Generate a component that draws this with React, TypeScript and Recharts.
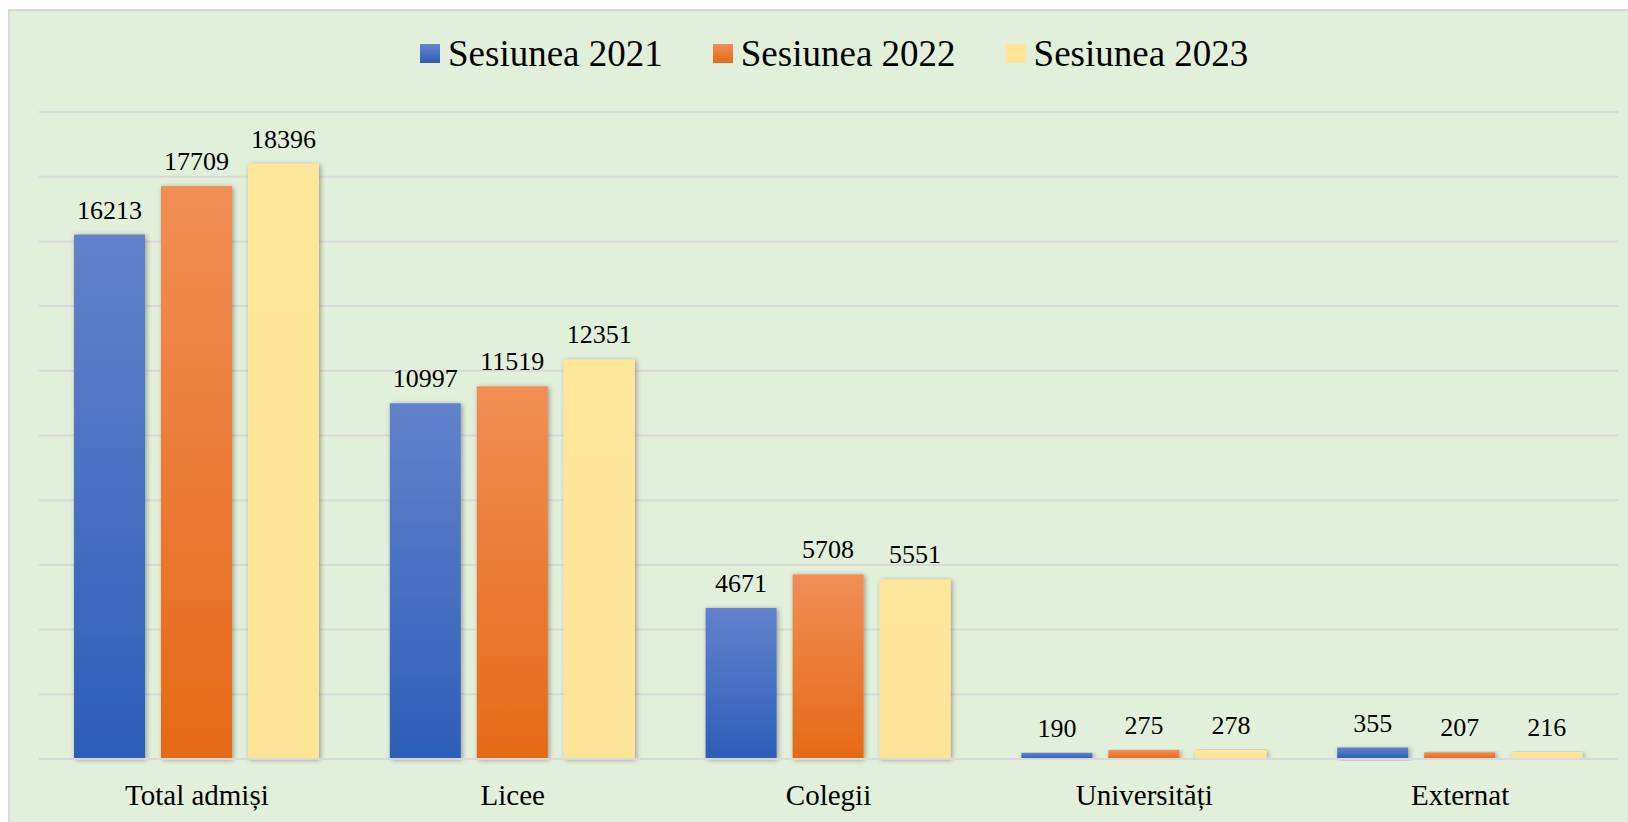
import React from 'react';
import { BarChart, Bar, XAxis, YAxis, CartesianGrid, LabelList } from 'recharts';

const categories = ['Total admiși', 'Licee', 'Colegii', 'Universități', 'Externat'];
const sesiunea2021 = [16213, 10997, 4671, 190, 355];
const sesiunea2022 = [17709, 11519, 5708, 275, 207];
const sesiunea2023 = [18396, 12351, 5551, 278, 216];
const yTicks = [0, 2000, 4000, 6000, 8000, 10000, 12000, 14000, 16000, 18000, 20000];

const seriesNames = ['Sesiunea 2021', 'Sesiunea 2022', 'Sesiunea 2023'];
const seriesKeys = ['s2021', 's2022', 's2023'];
const gradientIds = ['gradBlue', 'gradOrange', 'gradYellow'];

const data = categories.map((name, i) => ({
  name,
  s2021: sesiunea2021[i],
  s2022: sesiunea2022[i],
  s2023: sesiunea2023[i],
}));

const serif = "'Liberation Serif', 'Times New Roman', serif";

// bar with the soft excel-like shadow
const ShadowBar = (props: any) => {
  const { x, y, width, height, fill } = props;
  if (!height || height <= 0) return null;
  return <rect x={x} y={y} width={width} height={height} fill={fill} filter="url(#barShadow)" />;
};

const LegendSwatch = ({ id }: { id: string }) => (
  <svg width={20} height={19} style={{ display: 'block' }}>
    <defs>
      <linearGradient id={id + 'Leg'} x1="0" y1="0" x2="0" y2="1">
        {id === 'gradBlue' && <><stop offset="0%" stopColor="#6485CC" /><stop offset="100%" stopColor="#2D5EB8" /></>}
        {id === 'gradOrange' && <><stop offset="0%" stopColor="#F28E56" /><stop offset="100%" stopColor="#E56A17" /></>}
        {id === 'gradYellow' && <><stop offset="0%" stopColor="#FFE699" /><stop offset="100%" stopColor="#FEE497" /></>}
      </linearGradient>
    </defs>
    <rect x={0} y={0} width={20} height={19} fill={`url(#${id}Leg)`} />
  </svg>
);

export default function App() {
  return (
    <>
      <style>{`body { margin: 0; overflow: hidden; }`}</style>
      <div
        style={{
          position: 'absolute',
          left: 8,
          top: 9,
          width: 1618,
          height: 811,
          borderLeft: '2px solid #d9d9d9',
          borderTop: '2px solid #d9d9d9',
          background: '#E2EFDA',
        }}
      >
        <div
          style={{
            position: 'absolute',
            left: 410,
            top: 24,
            display: 'flex',
            alignItems: 'center',
            fontFamily: serif,
            fontSize: 37,
            lineHeight: '37px',
            color: '#000',
            whiteSpace: 'nowrap',
          }}
        >
          {seriesNames.map((s, i) => (
            <div key={s} style={{ display: 'flex', alignItems: 'center', marginRight: i < 2 ? 50 : 0 }}>
              <LegendSwatch id={gradientIds[i]} />
              <span style={{ marginLeft: 8 }}>{s}</span>
            </div>
          ))}
        </div>

        <BarChart
          width={1618}
          height={811}
          data={data}
          margin={{ top: 101, right: 10, left: 29, bottom: 3 }}
          barSize={71}
          barGap={16}
        >
          <defs>
            <linearGradient id="gradBlue" x1="0" y1="0" x2="0" y2="1">
              <stop offset="0%" stopColor="#6283CB" />
              <stop offset="100%" stopColor="#2D5EB8" />
            </linearGradient>
            <linearGradient id="gradOrange" x1="0" y1="0" x2="0" y2="1">
              <stop offset="0%" stopColor="#F18D55" />
              <stop offset="100%" stopColor="#E56A17" />
            </linearGradient>
            <linearGradient id="gradYellow" x1="0" y1="0" x2="0" y2="1">
              <stop offset="0%" stopColor="#FFE699" />
              <stop offset="100%" stopColor="#FEE497" />
            </linearGradient>
            <filter id="barShadow" x="-20%" y="-5%" width="140%" height="115%">
              <feDropShadow dx="1.5" dy="1" stdDeviation="2.5" floodColor="#000" floodOpacity="0.35" />
            </filter>
          </defs>
          <CartesianGrid vertical={false} stroke="#d9d9d9" strokeWidth={2} />
          <XAxis
            dataKey="name"
            height={60}
            tickLine={false}
            tickSize={0}
            tickMargin={25}
            axisLine={{ stroke: '#d9d9d9', strokeWidth: 2 }}
            tick={{ fill: '#000', fontSize: 29, fontFamily: serif }}
            interval={0}
          />
          <YAxis hide domain={[0, 20000]} ticks={yTicks} />
          {seriesKeys.map((k, i) => (
            <Bar
              key={k}
              dataKey={k}
              name={seriesNames[i]}
              fill={`url(#${gradientIds[i]})`}
              shape={<ShadowBar />}
              isAnimationActive={false}
            >
              <LabelList
                dataKey={k}
                position="top"
                offset={16}
                fill="#000"
                fontSize={26}
                fontFamily={serif}
              />
            </Bar>
          ))}
        </BarChart>
      </div>
    </>
  );
}
